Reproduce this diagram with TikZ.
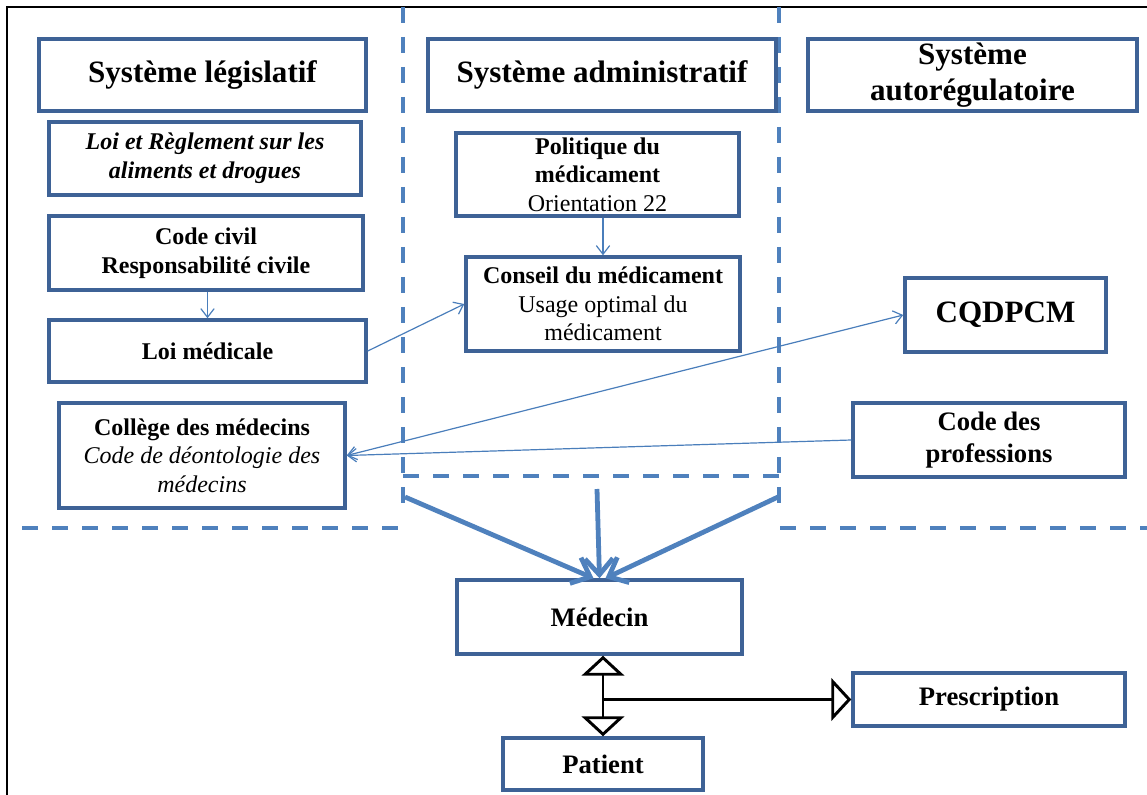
\documentclass[tikz,border=0pt]{standalone}
\usepackage{fontspec}
\setmainfont{Liberation Serif}
\usetikzlibrary{arrows.meta,calc}
\newlength\px
\setlength\px{0.75pt}
\definecolor{boxblue}{RGB}{62,98,150}
\definecolor{dashblue}{RGB}{79,129,189}
\definecolor{linkblue}{RGB}{74,126,187}
\begin{document}
\begin{tikzpicture}[x=0.75pt,y=-0.75pt,
  box/.style={draw=boxblue, line width=2.6pt, align=center, inner sep=0pt, text=black},
  headfont/.style={font=\fontsize{23.3}{26.5}\selectfont\bfseries},
  bodyfont/.style={font=\fontsize{18}{21.5}\selectfont},
  bigfont/.style={font=\fontsize{20}{24}\selectfont\bfseries},
  sep/.style={draw=dashblue, line width=3.2pt, dash pattern=on 12pt off 10.5pt},
  link/.style={draw=linkblue, line width=0.9pt, -{Straight Barb[length=6.5pt,width=10pt]}},
  flow/.style={draw=dashblue, line width=3.6pt, -{Straight Barb[length=12pt,width=21pt]}},
  rel/.style={draw=black, line width=2.2pt},
  opentip/.tip={Triangle[open,length=15pt,width=32pt]}
]
\useasboundingbox (0,0) rectangle (1147,795);

% outer frame
\draw[line width=1.5pt] (7,795) -- (7,7) -- (1147,7);

% separators between the three systems
\draw[sep] (403,7) -- (403,515);
\draw[sep] (779,7) -- (779,515);
\draw[sep] (403,476) -- (779,476);
\draw[sep] (22,528) -- (407,528);
\draw[sep] (780,528) -- (1147,528);

% legislative system
\node[box, headfont, minimum width=327\px, minimum height=72\px] (leg) at (202.5,75) {Système législatif};
\node[box, bodyfont, minimum width=312\px, minimum height=73\px] (lra) at (205,158.5)
  {\textbf{\textit{Loi et Règlement sur les}}\\\textbf{\textit{aliments et drogues}}};
\node[box, bodyfont, minimum width=314\px, minimum height=74\px] (cc) at (206,253)
  {\textbf{Code civil}\\\textbf{Responsabilité civile}};
\node[box, bodyfont, minimum width=317\px, minimum height=62\px] (lm) at (207.5,351)
  {\textbf{Loi médicale}};
\node[box, bodyfont, minimum width=286\px, minimum height=105\px] (cm) at (202,455.5)
  {\textbf{Collège des médecins}\\\textit{Code de déontologie des}\\\textit{médecins}};

% administrative system
\node[box, headfont, minimum width=348\px, minimum height=72\px] (adm) at (602,75) {Système administratif};
\node[box, bodyfont, minimum width=283\px, minimum height=83\px] (pol) at (597.5,174.5)
  {\textbf{Politique du}\\\textbf{médicament}\\Orientation 22};
\node[box, bodyfont, minimum width=274\px, minimum height=94\px] (con) at (603,304)
  {\textbf{Conseil du médicament}\\Usage optimal du\\médicament};

% self-regulatory system
\node[box, headfont, minimum width=329\px, minimum height=72\px] (auto) at (972.5,75) {Système\\autorégulatoire};
\node[box, headfont, minimum width=201\px, minimum height=74\px] (cq) at (1005.5,315) {CQDPCM};
\node[box, bigfont, minimum width=272\px, minimum height=74\px] (cdp) at (989,440) {Code des\\professions};

% practice level
\node[box, bigfont, minimum width=285\px, minimum height=74\px] (med) at (599.5,617) {Médecin};
\node[box, bigfont, minimum width=272\px, minimum height=53\px] (pre) at (989,699.5) {Prescription};
\node[box, bigfont, minimum width=200\px, minimum height=52\px] (pat) at (603,764) {Patient};

% links between texts
\draw[link] (lm.north |- cc.south) -- (lm.north);
\draw[link] (con.north |- pol.south) -- (con.north);
\draw[link] (lm.east) -- (con.west);
\draw[link, {Straight Barb[length=6.5pt,width=10pt]}-{Straight Barb[length=6.5pt,width=10pt]}] (cm.east) -- (cq.west);
\draw[link] (cdp.west) -- (cm.east);

% influence of the three systems on the physician
\coordinate (fl) at (405,497);
\coordinate (fc) at (597,489);
\coordinate (fr) at (778,497);
\draw[flow] (fl) -- ([xshift=-6\px]med.north);
\draw[flow] (fc) -- (med.north);
\draw[flow] (fr) -- ([xshift=6\px]med.north);

% physician, patient and prescription
\coordinate (j) at (pat.north |- pre.west);
\draw[rel, opentip-opentip] (pat.north |- med.south) -- (pat.north);
\draw[rel, -opentip] (j) -- (pre.west);
\end{tikzpicture}
\end{document}
